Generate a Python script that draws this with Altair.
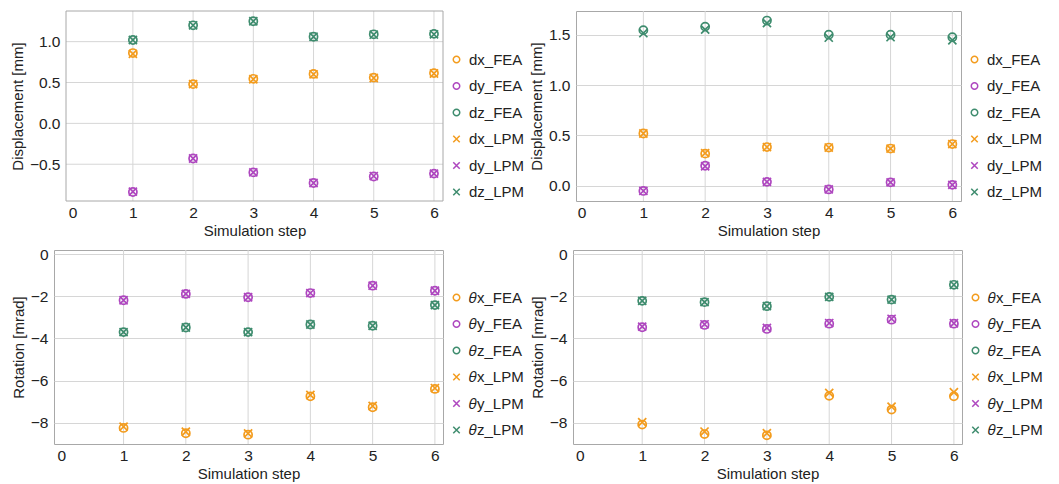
import altair as alt
import pandas as pd

steps = [1, 2, 3, 4, 5, 6]
grid_steps = [1, 2, 3, 4, 5, 6]
x_ticks = [0, 1, 2, 3, 4, 5, 6]

# Panel 1: displacement (top-left)
p1_names = ["dx_FEA", "dy_FEA", "dz_FEA", "dx_LPM", "dy_LPM", "dz_LPM"]
p1_dx_FEA = [0.86, 0.48, 0.545, 0.605, 0.56, 0.615]
p1_dy_FEA = [-0.84, -0.43, -0.60, -0.73, -0.65, -0.615]
p1_dz_FEA = [1.02, 1.20, 1.25, 1.06, 1.09, 1.095]
p1_dx_LPM = [0.85, 0.48, 0.54, 0.60, 0.555, 0.61]
p1_dy_LPM = [-0.835, -0.43, -0.60, -0.73, -0.645, -0.615]
p1_dz_LPM = [1.02, 1.20, 1.25, 1.06, 1.085, 1.09]

# Panel 2: displacement (top-right)
p2_dx_FEA = [0.52, 0.32, 0.385, 0.38, 0.37, 0.415]
p2_dy_FEA = [-0.05, 0.20, 0.04, -0.035, 0.035, 0.01]
p2_dz_FEA = [1.545, 1.58, 1.64, 1.50, 1.50, 1.475]
p2_dx_LPM = [0.52, 0.325, 0.385, 0.38, 0.37, 0.415]
p2_dy_LPM = [-0.05, 0.195, 0.04, -0.035, 0.035, 0.01]
p2_dz_LPM = [1.515, 1.55, 1.615, 1.47, 1.475, 1.445]

# Panel 3: rotation (bottom-left)
rot_names = ["\U0001D703x_FEA", "\U0001D703y_FEA", "\U0001D703z_FEA",
             "\U0001D703x_LPM", "\U0001D703y_LPM", "\U0001D703z_LPM"]
p3_tx_FEA = [-8.24, -8.49, -8.56, -6.74, -7.26, -6.39]
p3_ty_FEA = [-2.19, -1.89, -2.05, -1.85, -1.50, -1.74]
p3_tz_FEA = [-3.70, -3.48, -3.70, -3.34, -3.40, -2.42]
p3_tx_LPM = [-8.18, -8.42, -8.50, -6.68, -7.20, -6.35]
p3_ty_LPM = [-2.19, -1.89, -2.05, -1.85, -1.50, -1.74]
p3_tz_LPM = [-3.70, -3.48, -3.70, -3.34, -3.40, -2.42]

# Panel 4: rotation (bottom-right)
p4_tx_FEA = [-8.08, -8.53, -8.59, -6.72, -7.37, -6.74]
p4_ty_FEA = [-3.47, -3.36, -3.55, -3.30, -3.11, -3.30]
p4_tz_FEA = [-2.22, -2.28, -2.47, -2.03, -2.16, -1.46]
p4_tx_LPM = [-7.97, -8.41, -8.49, -6.58, -7.23, -6.55]
p4_ty_LPM = [-3.44, -3.33, -3.50, -3.27, -3.07, -3.28]
p4_tz_LPM = [-2.22, -2.28, -2.47, -2.03, -2.16, -1.46]

COLORS = ["#F39C1E", "#AE47BF", "#3E8C6E"]
X_PATH = "M-1,-1L1,1M-1,1L1,-1"
FONT = "Liberation Sans"
LFS = 15.5
TFS = 15
GRID = "#d6d6d6"
FRAME = "#a8a8a8"


def panel(names, series, ytitle, ydomain, yvalues, yfmt, w, h, legend_y,
          xdomain, inset=0):
    rows = []
    for n, vals in zip(names, series):
        for s, v in zip(steps, vals):
            rows.append({"step": s, "value": v, "series": n})
    df = pd.DataFrame(rows)
    xscale = alt.Scale(domain=xdomain, nice=False, zero=False)
    yscale = alt.Scale(domain=ydomain, nice=False, zero=False)
    xaxis_kw = dict(values=x_ticks, format="d", grid=False, ticks=False,
                    domain=False, labelPadding=4, titlePadding=3,
                    title="Simulation step", labelFontSize=LFS, titleFontSize=TFS,
                    labelFont=FONT, titleFont=FONT, titleFontWeight="normal",
                    labelColor="#222", titleColor="#222")
    if inset:
        xaxis_kw["titleX"] = inset + (w - inset) / 2
    xaxis = alt.Axis(**xaxis_kw)
    yaxis_kw = dict(values=yvalues, format=yfmt, grid=(inset == 0), gridColor=GRID,
                    ticks=False, domain=False, labelPadding=6, titlePadding=4,
                    title=ytitle, labelFontSize=LFS, titleFontSize=TFS,
                    labelFont=FONT, titleFont=FONT, titleFontWeight="normal",
                    labelColor="#222", titleColor="#222")
    if inset:
        yaxis_kw["offset"] = -inset
    yaxis = alt.Axis(**yaxis_kw)

    layers = []
    vgrid = alt.Chart(pd.DataFrame({"step": grid_steps})).mark_rule(
        color=GRID, strokeWidth=1
    ).encode(x=alt.X("step:Q", scale=xscale, axis=xaxis))
    layers.append(vgrid)
    if inset:
        hgrid = alt.Chart(pd.DataFrame({"value": yvalues})).mark_rule(
            color=GRID, strokeWidth=1
        ).encode(y=alt.Y("value:Q", scale=yscale, axis=yaxis),
                 x=alt.value(inset), x2=alt.value(w))
        frame = alt.Chart(pd.DataFrame({"k": [0]})).mark_rect(
            filled=False, stroke=FRAME, strokeWidth=1
        ).encode(x=alt.value(inset), x2=alt.value(w), y=alt.value(0), y2=alt.value(h))
        layers += [hgrid, frame]

    leg = alt.Legend(title=None, orient="none", legendX=w + 6, legendY=legend_y,
                     labelFontSize=TFS, labelFont=FONT, labelColor="#222",
                     symbolSize=42, symbolStrokeWidth=1.5, rowPadding=10.5,
                     labelOffset=5)
    pts = alt.Chart(df).mark_point(filled=False, size=66, strokeWidth=1.7, opacity=1).encode(
        x=alt.X("step:Q", scale=xscale, axis=xaxis),
        y=alt.Y("value:Q", scale=yscale, axis=yaxis),
        color=alt.Color("series:N", scale=alt.Scale(domain=names, range=COLORS * 2), legend=leg),
        shape=alt.Shape("series:N", scale=alt.Scale(domain=names, range=["circle"] * 3 + [X_PATH] * 3), legend=leg),
        order=alt.Order("idx:Q"),
    ).transform_calculate(idx="indexof(" + str(names) + ", datum.series)")
    layers.append(pts)
    ch = alt.layer(*layers).properties(width=w, height=h)
    if inset:
        ch = ch.properties(view=alt.ViewBackground(stroke="transparent"))
    return ch


p1 = panel(p1_names, [p1_dx_FEA, p1_dy_FEA, p1_dz_FEA, p1_dx_LPM, p1_dy_LPM, p1_dz_LPM],
           "Displacement [mm]", [-0.95, 1.375], [-0.5, 0.0, 0.5, 1.0], ".1f", 389, 190, 41,
           [-0.31, 6.15], inset=12)
p2 = panel(p1_names, [p2_dx_FEA, p2_dy_FEA, p2_dz_FEA, p2_dx_LPM, p2_dy_LPM, p2_dz_LPM],
           "Displacement [mm]", [-0.15, 1.735], [0.0, 0.5, 1.0, 1.5], ".1f", 385, 190, 41,
           [-0.09, 6.14])
p3 = panel(rot_names, [p3_tx_FEA, p3_ty_FEA, p3_tz_FEA, p3_tx_LPM, p3_ty_LPM, p3_tz_LPM],
           "Rotation [mrad]", [-9.0, 0.19], [-8, -6, -4, -2, 0], "d", 389, 194, 40,
           [-0.117, 6.13])
p4 = panel(rot_names, [p4_tx_FEA, p4_ty_FEA, p4_tz_FEA, p4_tx_LPM, p4_ty_LPM, p4_tz_LPM],
           "Rotation [mrad]", [-9.0, 0.19], [-8, -6, -4, -2, 0], "d", 389, 194, 40,
           [-0.11, 6.13])

top = alt.hconcat(p1, p2, spacing=2).resolve_scale(color="independent", shape="independent")
bottom = alt.hconcat(p3, p4, spacing=4).resolve_scale(color="independent", shape="independent")

chart = alt.vconcat(top, bottom, spacing=7).resolve_scale(
    color="independent", shape="independent"
).properties(
    padding={"left": 9, "top": 10, "right": 5, "bottom": 5},
    background="white",
).configure_view(stroke=FRAME, strokeWidth=1)

chart.save("out.html", embed_options={"renderer": "svg", "actions": False})
